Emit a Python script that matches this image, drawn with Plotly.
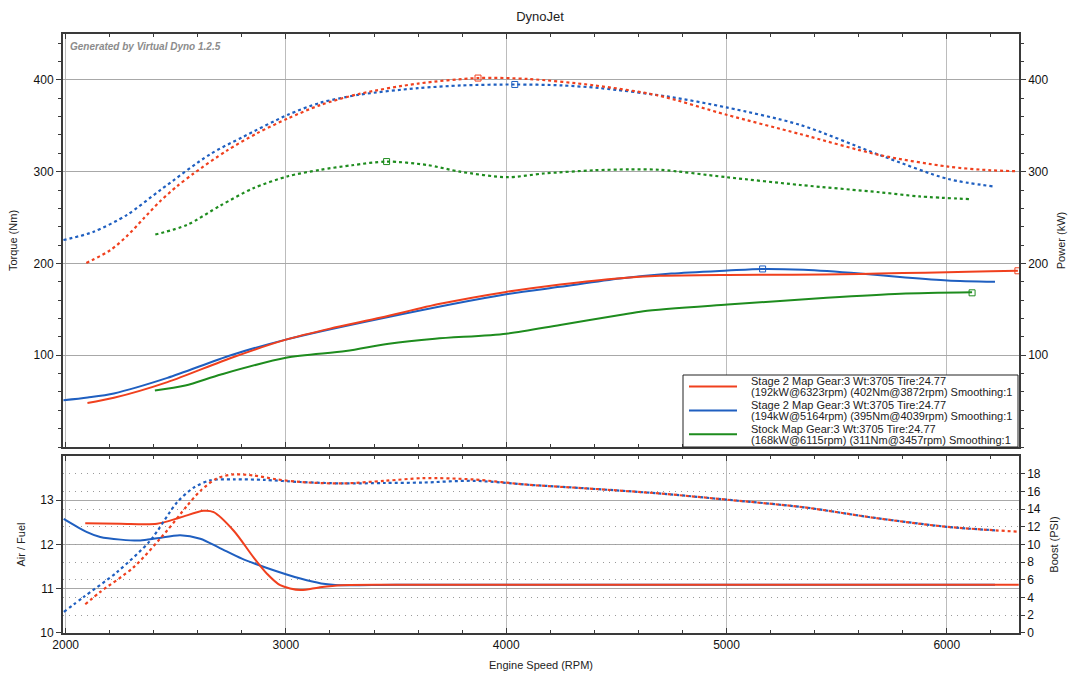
import plotly.graph_objects as go

# ---------------- data ----------------
run_names = ["Stage 2 Map", "Stage 2 Map", "Stock Map"]
run_colors = ["#F0401E", "#1F5FC0", "#1E8C1E"]
peak_pw = [192, 194, 168]
peak_pw_rpm = [6323, 5164, 6115]
peak_tq = [402, 395, 311]
peak_tq_rpm = [3872, 4039, 3457]

# Torque (Nm) - dotted
rpm_r_tq = [2094, 2203, 2279, 2354, 2430, 2505, 2581, 2732, 2870, 3009, 3155, 3337, 3600, 3872, 4100, 4400, 4690, 5000, 5334, 5697, 6006, 6200, 6323]
tq_r = [200.5, 214.5, 230, 249, 268, 284, 298, 323, 342, 358, 372.5, 385, 396, 402, 401, 394, 383, 362, 341, 318, 305.5, 301.5, 300.5]
rpm_b_tq = [1990, 2127, 2279, 2430, 2656, 2806, 3009, 3155, 3337, 3600, 3800, 4039, 4250, 4426, 4729, 5000, 5334, 5697, 6006, 6210]
tq_b = [225.5, 234.5, 253, 280, 319, 338, 362, 375, 384, 391, 394, 395, 394, 391, 382, 370, 351, 318, 292, 284]
rpm_g_tq = [2407, 2551, 2702, 2852, 3009, 3155, 3300, 3457, 3640, 3791, 4003, 4170, 4397, 4560, 4700, 5000, 5334, 5697, 5877, 6115]
tq_g = [231.5, 242, 263, 282, 295, 302, 307, 311, 307.3, 300, 294, 298, 301.5, 302.5, 302, 294, 285.5, 277.5, 273, 270]

# Power (kW) - solid
rpm_r_pw = [2099, 2219, 2462, 2750, 3000, 3200, 3432, 3700, 4000, 4245, 4517, 4698, 5005, 5300, 5606, 5800, 6003, 6200, 6323]
pw_r = [48, 53.6, 70.7, 97, 117, 129, 141, 156, 169, 177, 184, 186.5, 187.5, 187.7, 188.5, 189.5, 190.5, 191.5, 192]
rpm_b_pw = [1990, 2100, 2219, 2462, 2750, 3000, 3432, 4000, 4245, 4517, 4750, 5005, 5164, 5350, 5606, 5800, 6003, 6219]
pw_b = [51, 54, 58.4, 75.3, 100, 117, 140, 166.4, 174.5, 183.5, 189, 192.3, 194, 193, 189, 185, 181.5, 180]
rpm_g_pw = [2405, 2543, 2705, 3000, 3272, 3467, 3677, 4000, 4245, 4517, 4623, 5005, 5455, 5790, 6115]
pw_g = [61.6, 67, 79, 97.3, 104.5, 112.5, 118, 123.5, 133, 143.8, 148, 155.2, 162.5, 166.9, 168.5]

# Air / Fuel - solid
rpm_r_afr = [2089, 2250, 2415, 2520, 2626, 2672, 2763, 2853, 2914, 2974, 3066, 3150, 3250, 3500, 4500, 5500, 6327]
afr_r = [12.48, 12.47, 12.47, 12.61, 12.76, 12.73, 12.31, 11.71, 11.34, 11.08, 10.97, 11.03, 11.08, 11.09, 11.09, 11.09, 11.09]
rpm_b_afr = [1991, 2097, 2157, 2250, 2339, 2415, 2520, 2611, 2700, 2800, 2914, 3066, 3160, 3250, 3500, 4500, 5500, 6219]
afr_b = [12.58, 12.28, 12.17, 12.11, 12.09, 12.14, 12.21, 12.13, 11.92, 11.68, 11.47, 11.23, 11.12, 11.08, 11.09, 11.09, 11.09, 11.09]

# Boost (PSI) - dotted
rpm_r_bst = [2089, 2157, 2309, 2460, 2551, 2611, 2687, 2763, 2853, 2959, 3066, 3256, 3450, 3624, 3850, 4100, 4358, 4703, 5000, 5352, 5675, 6000, 6327]
bst_r = [3.25, 4.64, 7.44, 11.56, 14.37, 16.05, 17.47, 17.92, 17.8, 17.36, 17.06, 16.9, 17.2, 17.5, 17.35, 16.75, 16.35, 15.75, 15.07, 14.2, 13.0, 12.0, 11.44]
rpm_b_bst = [1992, 2082, 2233, 2384, 2505, 2581, 2656, 2763, 2900, 3066, 3256, 3450, 3624, 3850, 4100, 4358, 4703, 5000, 5352, 5675, 6000, 6219]
bst_b = [2.39, 4.07, 6.88, 10.44, 14.74, 16.42, 17.25, 17.36, 17.3, 17.06, 16.9, 16.95, 17.0, 17.2, 16.75, 16.35, 15.75, 15.07, 14.2, 13.0, 12.0, 11.6]

torque_ticks = [100, 200, 300, 400]
afr_ticks = [10, 11, 12, 13]
boost_ticks = [0, 2, 4, 6, 8, 10, 12, 14, 16, 18]
rpm_ticks = [2000, 3000, 4000, 5000, 6000]

FONT = "Liberation Sans, Arial, sans-serif"

tq_sets = [(rpm_r_tq, tq_r), (rpm_b_tq, tq_b), (rpm_g_tq, tq_g)]
pw_sets = [(rpm_r_pw, pw_r), (rpm_b_pw, pw_b), (rpm_g_pw, pw_g)]
afr_sets = [(rpm_r_afr, afr_r), (rpm_b_afr, afr_b)]
bst_sets = [(rpm_r_bst, bst_r), (rpm_b_bst, bst_b)]

fig = go.Figure()
dot = "3px,3px"

# draw order: green, blue, red (red on top)
for i in [2, 1, 0]:
    c = run_colors[i]
    x, y = tq_sets[i]
    fig.add_trace(go.Scatter(x=x, y=y, mode="lines", xaxis="x2", yaxis="y3",
                             line=dict(color=c, width=2.2, dash=dot, shape="spline", smoothing=0.8),
                             showlegend=False, hoverinfo="skip"))
    x, y = pw_sets[i]
    fig.add_trace(go.Scatter(x=x, y=y, mode="lines", xaxis="x2", yaxis="y4",
                             line=dict(color=c, width=2, shape="spline", smoothing=0.8),
                             showlegend=False, hoverinfo="skip"))
    fig.add_trace(go.Scatter(x=[peak_tq_rpm[i]], y=[peak_tq[i]], mode="markers", xaxis="x2", yaxis="y3",
                             marker=dict(symbol="square-open", size=6, color=c, line=dict(width=1, color=c)),
                             showlegend=False, hoverinfo="skip"))
    fig.add_trace(go.Scatter(x=[peak_pw_rpm[i]], y=[peak_pw[i]], mode="markers", xaxis="x2", yaxis="y4",
                             marker=dict(symbol="square-open", size=6, color=c, line=dict(width=1, color=c)),
                             showlegend=False, hoverinfo="skip"))

for i in [1, 0]:
    c = run_colors[i]
    x, y = afr_sets[i]
    fig.add_trace(go.Scatter(x=x, y=y, mode="lines", xaxis="x", yaxis="y",
                             line=dict(color=c, width=2, shape="spline", smoothing=0.8),
                             showlegend=False, hoverinfo="skip"))
    x, y = bst_sets[i]
    fig.add_trace(go.Scatter(x=x, y=y, mode="lines", xaxis="x", yaxis="y2",
                             line=dict(color=c, width=2.2, dash=dot, shape="spline", smoothing=0.8),
                             showlegend=False, hoverinfo="skip"))

xrange = [1988, 6328]
grid_c = "#bcbcbc"
axis_c = "#3a3a3a"
tickfont = dict(family=FONT, size=12, color="#111")
titlefont = dict(family=FONT, size=11, color="#222")

common_x = dict(range=xrange, showgrid=True, gridcolor=grid_c, gridwidth=1, zeroline=False,
                showline=True, linecolor=axis_c, linewidth=1.5, mirror="ticks",
                ticks="inside", ticklen=5, tickcolor=axis_c, tickvals=rpm_ticks,
                minor=dict(dtick=200, tick0=2000, ticks="inside", ticklen=3, tickcolor=axis_c, showgrid=False))

# ---- legend box drawn in paper coordinates (pixel helpers) ----
L, R, T, B = 63, 1019, 34, 633
def px_x(p):
    return (p - L) / (R - L)
def px_y(p):
    return (B - p) / (B - T)

shapes = [dict(type="rect", xref="paper", yref="paper", x0=px_x(683), x1=px_x(1018),
               y0=px_y(447), y1=px_y(375), fillcolor="white", line=dict(color="#222", width=1),
               layer="above")]
annotations = [dict(text="<b><i>Generated by Virtual Dyno 1.2.5</i></b>", xref="paper", yref="paper",
                    x=px_x(68), y=px_y(46), xanchor="left", yanchor="middle",
                    showarrow=False, font=dict(family=FONT, size=10, color="#8c8c8c"))]
for i in range(3):
    ymid = 386.5 + 23.9 * i
    shapes.append(dict(type="line", xref="paper", yref="paper", x0=px_x(689), x1=px_x(737),
                       y0=px_y(ymid), y1=px_y(ymid), line=dict(color=run_colors[i], width=2), layer="above"))
    line1 = f"{run_names[i]} Gear:3 Wt:3705 Tire:24.77"
    line2 = f"({peak_pw[i]}kW@{peak_pw_rpm[i]}rpm) ({peak_tq[i]}Nm@{peak_tq_rpm[i]}rpm) Smoothing:1"
    for j, t in enumerate([line1, line2]):
        annotations.append(dict(text=t, xref="paper", yref="paper", x=px_x(749), y=px_y(ymid - 5.8 + 11.6 * j),
                                xanchor="left", yanchor="middle", showarrow=False,
                                font=dict(family=FONT, size=11, color="#222")))

fig.update_layout(
    width=1080, height=683,
    margin=dict(l=L, r=1080 - R, t=T, b=683 - B),
    paper_bgcolor="white", plot_bgcolor="white",
    font=dict(family=FONT, color="#111"),
    showlegend=False,
    title=dict(text="DynoJet", x=0.5, xanchor="center", y=1 - 16 / 683, yanchor="middle",
               yref="container", font=dict(family=FONT, size=13, color="#222")),
    xaxis=dict(**common_x, anchor="y", domain=[0, 1], tickfont=tickfont,
               title=dict(text="Engine Speed (RPM)", font=titlefont, standoff=10)),
    xaxis2=dict(**common_x, anchor="y3", matches="x", showticklabels=False),
    yaxis=dict(domain=[0, 0.2955], anchor="x", range=[10, 14], tickvals=afr_ticks,
               showgrid=True, gridcolor="#a8a8a8", zeroline=False,
               showline=True, linecolor=axis_c, linewidth=2,
               ticks="outside", ticklen=5, tickcolor=axis_c, tickfont=tickfont,
               title=dict(text="Air / Fuel", font=titlefont, standoff=12)),
    yaxis2=dict(overlaying="y", side="right", anchor="x", range=[0, 20], tickvals=boost_ticks,
                showgrid=True, gridcolor="#9a9a9a", griddash="1px,5px", zeroline=False,
                showline=True, linecolor=axis_c, linewidth=1.5,
                ticks="outside", ticklen=4, tickcolor=axis_c, tickfont=tickfont,
                title=dict(text="Boost (PSI)", font=titlefont, standoff=10)),
    yaxis3=dict(domain=[0.3105, 1], anchor="x2", range=[0, 450], tickvals=torque_ticks,
                showgrid=True, gridcolor="#a8a8a8", zeroline=False,
                showline=True, linecolor=axis_c, linewidth=2,
                ticks="outside", ticklen=5, tickcolor=axis_c, tickfont=tickfont,
                minor=dict(dtick=20, tick0=0, ticks="outside", ticklen=3, tickcolor=axis_c, showgrid=False),
                title=dict(text="Torque (Nm)", font=titlefont, standoff=14)),
    yaxis4=dict(overlaying="y3", side="right", anchor="x2", range=[0, 450], tickvals=torque_ticks,
                showgrid=False, zeroline=False,
                showline=True, linecolor=axis_c, linewidth=1.5,
                ticks="outside", ticklen=5, tickcolor=axis_c, tickfont=tickfont,
                minor=dict(dtick=20, tick0=0, ticks="outside", ticklen=3, tickcolor=axis_c, showgrid=False),
                title=dict(text="Power (kW)", font=titlefont, standoff=10)),
    shapes=shapes,
    annotations=annotations,
)

fig.write_html("out.html")
